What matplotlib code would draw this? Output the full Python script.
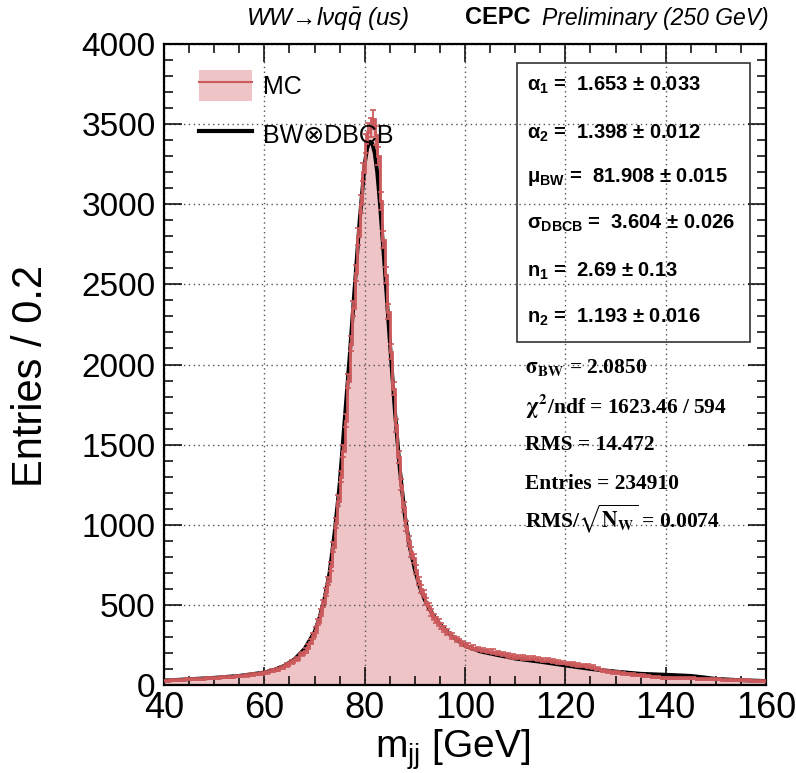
import numpy as np
import matplotlib
matplotlib.use("Agg")
import matplotlib.pyplot as plt
from matplotlib.patches import Patch, Rectangle
from matplotlib.lines import Line2D
from matplotlib.legend_handler import HandlerTuple
from matplotlib.ticker import MultipleLocator

plt.rcParams['font.family'] = ['Liberation Sans', 'DejaVu Sans']
plt.rcParams['mathtext.fontset'] = 'custom'
plt.rcParams['mathtext.rm'] = 'Liberation Sans'
plt.rcParams['mathtext.it'] = 'Liberation Sans:italic'
plt.rcParams['mathtext.bf'] = 'Liberation Sans:bold'

# ---------------- data ----------------
# histogram bin edges (GeV): 1 GeV bins in tails, 0.5 GeV bins in core
edges_low = np.arange(40, 68, 1.0)
edges_core = np.arange(68, 96, 0.5)
edges_high = np.arange(96, 160.01, 1.0)

# MC entries per 0.2 GeV
mc_low = [28, 30, 31, 33, 35, 37, 38, 40, 42, 44, 46, 48, 50, 52, 55, 57,
          60, 64, 68, 74, 80, 88, 96, 108, 125, 143, 165, 195]
mc_core = [215, 240, 270, 305, 345, 395, 450, 510, 580, 650, 740, 860,
           1010, 1150, 1300, 1460, 1650, 1900, 2130, 2350, 2570, 2800, 3000, 3200,
           3380, 3450, 3480, 3530, 3430, 3300, 3020, 2780, 2560, 2330, 2080, 1850,
           1620, 1420, 1250, 1110, 990, 900, 830, 790, 720, 650, 600, 570,
           520, 490, 455, 425, 405, 390, 370, 350]
mc_high = [330, 305, 285, 260, 245, 232, 225, 218, 212, 208, 200, 193, 185, 178,
           174, 172, 170, 166, 162, 158, 154, 148, 144, 140, 135, 130, 126, 122,
           118, 112, 102, 92, 85, 80, 76, 72, 68, 65, 62, 59, 55, 51, 48, 45,
           44, 43, 43, 42, 42, 41, 40, 39, 38, 36, 35, 34, 33, 32, 31, 30,
           29, 28, 27, 25]

# BW (x) DBCB fit curve
fit_x = [40, 45, 50, 55, 60, 62, 64, 66, 68, 70, 71, 72, 73, 74, 75, 76, 77, 78,
         79, 80, 80.5, 81, 81.5, 82, 82.5, 83, 84, 85, 86, 87, 88, 89, 90, 91,
         92, 93, 94, 95, 97, 100, 103, 106, 110, 115, 120, 125, 130, 135, 140,
         145, 147.5, 150, 155, 160]
fit_y = [28, 36, 45, 57, 78, 95, 120, 160, 225, 330, 420, 540, 700, 950, 1250,
         1650, 2050, 2480, 2900, 3250, 3350, 3390, 3380, 3320, 3200, 3020, 2600,
         2150, 1720, 1350, 1060, 860, 720, 610, 530, 470, 420, 380, 315, 245,
         210, 190, 165, 145, 122, 100, 84, 70, 64, 57, 48, 38, 30, 25]

x_ticks = [40, 60, 80, 100, 120, 140, 160]
y_ticks = [0, 500, 1000, 1500, 2000, 2500, 3000, 3500, 4000]

edges = np.concatenate([edges_low, edges_core, edges_high])
mc = np.array(mc_low + mc_core + mc_high, dtype=float)
centers = 0.5 * (edges[:-1] + edges[1:])

W, H = 796, 773
fig = plt.figure(figsize=(W / 100, H / 100), dpi=100)
def fp(x, y):
    return x / W, 1 - y / H

L, R, T, B = 164, 766, 44, 685
ax = fig.add_axes([L / W, 1 - B / H, (R - L) / W, (B - T) / H])

pink = '#EEC4C6'
red = '#CC5A5C'

ax.stairs(mc, edges, fill=True, color=pink, zorder=1, linewidth=0)
ax.plot(fit_x, fit_y, color='black', lw=2.8, zorder=2)
ax.stairs(mc, edges, baseline=None, color=red, lw=2.0, zorder=3)
ax.errorbar(centers, mc, yerr=np.sqrt(mc), fmt='none', ecolor=red,
            elinewidth=1.3, capsize=2, capthick=1.2, zorder=3)

ax.set_xlim(40, 160)
ax.set_ylim(0, 4000)
ax.set_xticks(x_ticks)
ax.set_yticks(y_ticks)
ax.xaxis.set_minor_locator(MultipleLocator(5))
ax.yaxis.set_minor_locator(MultipleLocator(100))
ax.tick_params(which='both', direction='in', top=True, right=True, width=1.1)
ax.tick_params(which='major', length=13)
ax.tick_params(which='minor', length=6.5)
ax.tick_params(axis='x', labelsize=26, pad=4)
ax.tick_params(axis='y', labelsize=24, pad=6)
ax.grid(True, which='major', color='#555555', linestyle=(0, (1, 2.5)), lw=1.0)
for s in ax.spines.values():
    s.set_linewidth(1.6)

# axis titles
fig.text(*fp(31, 376), 'Entries / 0.2', rotation=90, ha='center', va='center', fontsize=30)
fig.text(*fp(453, 750), r'm$_{\mathrm{jj}}$ [GeV]', ha='center', va='center', fontsize=28)

# header texts
fig.text(*fp(246, 18), r'WW→lνq$\bar{\mathit{q}}$ (us)', ha='left', va='center',
         fontsize=17.5, style='italic')
fig.text(*fp(465, 18), 'CEPC', ha='left', va='center', fontsize=17, fontweight='bold')
fig.text(*fp(769, 18), 'Preliminary (250 GeV)', ha='right', va='center', fontsize=16.5,
         style='italic')

# legend
h_mc = (Patch(facecolor=pink, edgecolor='none'), Line2D([], [], color=red, lw=1.5))
h_fit = Line2D([], [], color='black', lw=3)
leg = ax.legend([h_mc, h_fit], ['MC', 'BW⊗DBCB'],
                handler_map={tuple: HandlerTuple(ndivide=1, pad=0)},
                loc='upper left', bbox_to_anchor=((199 - L) / (R - L), (B - 70) / (B - T)),
                frameon=False, fontsize=18, handlelength=2.1, handleheight=1.5,
                labelspacing=0.75, handletextpad=0.45, borderaxespad=0, borderpad=0)

# stats box
ax.add_patch(Rectangle(((517 - L) / (R - L), (B - 342) / (B - T)),
                       (750 - 517) / (R - L), (342 - 63) / (B - T),
                       transform=ax.transAxes, fill=False, edgecolor='#333333',
                       lw=1.2, zorder=5))
box_lines = [r'$\mathregular{\alpha_{1}}$ =  1.653 $\mathregular{\pm}$ 0.033',
             r'$\mathregular{\alpha_{2}}$ =  1.398 $\mathregular{\pm}$ 0.012',
             r'$\mathregular{\mu_{BW}}$ =  81.908 $\mathregular{\pm}$ 0.015',
             r'$\mathregular{\sigma_{DBCB}}$ =  3.604 $\mathregular{\pm}$ 0.026',
             r'$\mathregular{n_{1}}$ =  2.69 $\mathregular{\pm}$ 0.13',
             r'$\mathregular{n_{2}}$ =  1.193 $\mathregular{\pm}$ 0.016']
box_base = [90.7, 138.7, 182, 229, 277, 322.7]
for t, yb in zip(box_lines, box_base):
    fig.text(*fp(527, yb), t, ha='left', va='baseline', fontsize=14.5,
             fontweight='bold', math_fontfamily='custom')

extra_lines = [r'$\mathbf{\sigma_{BW}}$ = 2.0850',
               r'$\mathbf{\chi^{2}}$/ndf = 1623.46 / 594',
               'RMS = 14.472',
               'Entries = 234910',
               r'RMS/$\mathbf{\sqrt{N_{W}}}$ = 0.0074']
extra_base = [373.3, 413.3, 450, 489.3, 527.3]
for t, yb in zip(extra_lines, extra_base):
    fig.text(*fp(525, yb), t, ha='left', va='baseline', fontsize=15.5,
             fontweight='bold', family='Liberation Serif', math_fontfamily='stix')

fig.savefig('out.png', dpi=100)
